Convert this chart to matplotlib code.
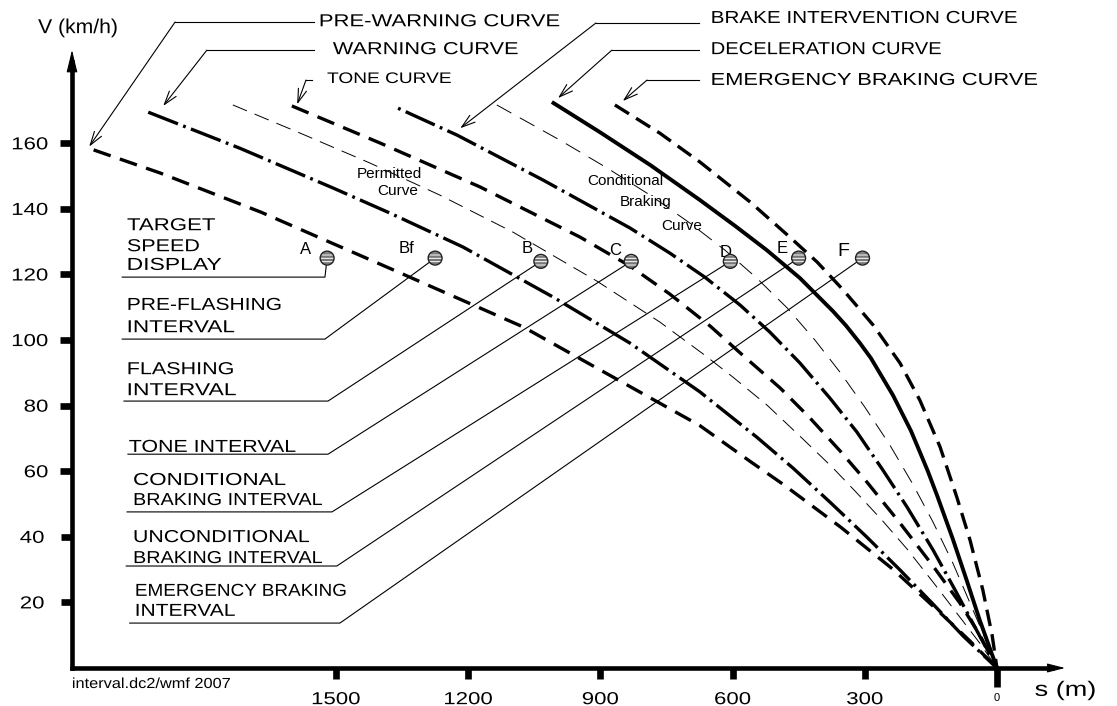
import matplotlib
matplotlib.use('Agg')
import matplotlib.pyplot as plt
from matplotlib.patheffects import AbstractPathEffect
from matplotlib.transforms import Affine2D

plt.rcParams['font.family'] = ['Liberation Sans', 'DejaVu Sans']
plt.rcParams['lines.scale_dashes'] = False
plt.rcParams['hatch.linewidth'] = 0.7

# braking curves, distance to the target point s (m) against speed V (km/h)
pre_warning_s = [2050, 1900, 1670, 1380, 1075, 835, 675, 560, 485, 355, 235, 130, 61, 0]
pre_warning_v = [158, 151, 139, 122, 104, 86, 74, 63, 56, 43, 30, 17, 8.2, 0]

warning_s = [1926, 1718, 1507, 1377, 1212, 1007, 833, 674, 545, 463, 379, 295, 220, 145, 77, 0]
warning_v = [169.5, 158.5, 146.4, 138.7, 128.4, 113.1, 99.1, 84.2, 70.4, 61.0, 50.6, 39.9, 29.9, 19.5, 9.8, 0]

permitted_s = [1734, 1581, 1423, 1264, 1098, 908, 765, 663, 599, 522, 447, 372, 318, 259, 204, 145, 84, 39, 0]
permitted_v = [171.7, 163.1, 154.0, 144.2, 132.9, 118.0, 105.5, 95.4, 88.7, 80.2, 70.7, 61.0, 53.4, 44.8, 36.3, 26.2, 15.5, 7.6, 0]

tone_s = [1600, 1400, 1173, 946, 833, 742, 651, 572, 492, 424, 356, 295, 220, 145, 84, 39, 0]
tone_v = [171.4, 160.1, 146.7, 131.4, 122.6, 114.0, 104.3, 94.8, 85.4, 76.2, 66.2, 56.7, 44.2, 31.1, 19.8, 10.1, 0]

brake_s = [1359, 1225, 1030, 833, 742, 663, 583, 515, 447, 379, 318, 259, 204, 145, 95, 50, 0]
brake_v = [170.7, 162.5, 148.8, 134.2, 126.5, 119.2, 110.7, 102.4, 93.0, 82.3, 72.0, 60.4, 49.1, 36.0, 23.8, 12.5, 0]

conditional_s = [1135, 992, 885, 787, 697, 617, 545, 476, 413, 356, 300, 243, 191, 145, 100, 61, 27, 0]
conditional_v = [171.7, 161.0, 152.5, 144.2, 135.7, 127.4, 118.9, 109.8, 100.0, 90.2, 79.6, 68.0, 56.1, 44.5, 32.0, 19.8, 9.1, 0]

decel_s = [1010, 901, 787, 674, 594, 522, 447, 372, 343, 311, 286, 259, 236, 213, 195, 175,
           157, 136, 118, 100, 84, 68, 39, 0]
decel_v = [172.6, 163.4, 153.4, 142.7, 134.8, 127.4, 118.9, 108.8, 104.5, 99.1, 94.5, 88.4,
           83.2, 77.1, 72.3, 65.9, 60.1, 52.7, 46.0, 39.3, 32.9, 26.5, 14.6, 0]

emergency_s = [867, 765, 674, 560, 470, 408, 349, 281, 220, 175, 129, 91, 61, 32, 11, 0]
emergency_v = [171.7, 163.1, 154.3, 142.1, 131.4, 123.8, 115.3, 104.6, 93.0, 81.7, 67.4, 52.1, 39.0, 23.8, 10.1, 0]

# display points on the 125 km/h line
dot_names = ['A', 'Bf', 'B', 'C', 'D', 'E', 'F']
dot_s = [1520, 1275, 1035, 830, 605, 450, 305]
dot_v = [125, 125, 124, 124, 124, 125, 125]

interval_text = ['TARGET', 'SPEED', 'DISPLAY', 'PRE-FLASHING', 'INTERVAL', 'FLASHING', 'INTERVAL',
                 'TONE INTERVAL', 'CONDITIONAL', 'BRAKING INTERVAL', 'UNCONDITIONAL',
                 'BRAKING INTERVAL', 'EMERGENCY BRAKING', 'INTERVAL']
curve_text = ['PRE-WARNING CURVE', 'WARNING CURVE', 'TONE CURVE',
              'BRAKE INTERVENTION CURVE', 'DECELERATION CURVE', 'EMERGENCY BRAKING CURVE']

x_ticks = [1500, 1200, 900, 600, 300]
y_ticks = [60, 80, 100, 120, 140, 160]
y_small_ticks = [20, 40]


class Stretch(AbstractPathEffect):
    # the lettering in the drawing is spaced out, widen the glyphs sideways
    def __init__(self, sx, anchor='left'):
        super().__init__()
        self.sx = sx
        self.anchor = anchor

    def draw_path(self, renderer, gc, tpath, affine, rgbFace=None):
        ext = tpath.get_extents(affine)
        if self.anchor == 'left':
            x0 = ext.x0
        elif self.anchor == 'right':
            x0 = ext.x1
        else:
            x0 = (ext.x0 + ext.x1) / 2
        aff = affine + Affine2D().translate(-x0, 0).scale(self.sx, 1).translate(x0, 0)
        renderer.draw_path(gc, tpath, aff, rgbFace)


fig = plt.figure(figsize=(11.17, 7.06), dpi=100)
ax = fig.add_axes([72 / 1117, 38 / 706, 980 / 1117, 606 / 706])
ax.set_xlim(2099, -125)
ax.set_ylim(0, 184.8)


def label(x, y, txt, size=12.5, sx=1.22, ha='left'):
    t = ax.text(x, y, txt, fontsize=size, ha=ha, va='baseline', clip_on=False)
    t.set_path_effects([Stretch(sx, ha)])
    return t


# curves
ax.plot(pre_warning_s, pre_warning_v, color='k', lw=2.4, dashes=(13, 7))
ax.plot(warning_s, warning_v, color='k', lw=2.4, dashes=(23, 4, 2, 4))
ax.plot(permitted_s, permitted_v, color='k', lw=0.7, dashes=(11, 6))
ax.plot(tone_s, tone_v, color='k', lw=2.4, dashes=(13, 7))
ax.plot(brake_s, brake_v, color='k', lw=2.4, ls=(27, (23, 4, 2, 4)))
ax.plot(conditional_s, conditional_v, color='k', lw=0.7, dashes=(12, 7))
ax.plot(decel_s, decel_v, color='k', lw=2.8, solid_capstyle='butt', solid_joinstyle='round')
ax.plot(emergency_s, emergency_v, color='k', lw=2.4, dashes=(12, 6))

# leaders from the interval labels to the display points
under_s0 = [1985, 1985, 1981, 1972, 1974, 1976, 1968]
under_s1 = [1525, 1525, 1518, 1518, 1509, 1498, 1491]
under_v = [119.2, 100.3, 81.4, 65.2, 47.6, 31.1, 13.7]
for i in range(len(dot_s)):
    ax.plot([under_s0[i], under_s1[i], dot_s[i]], [under_v[i], under_v[i], dot_v[i]],
            color='k', lw=0.8)

ax.scatter(dot_s, dot_v, s=100, facecolors='#777777', edgecolors='white',
           linewidths=0, hatch='-----', zorder=5)
ax.scatter(dot_s, dot_v, s=100, facecolors='none', edgecolors='#222222',
           linewidths=1.0, zorder=6)

name_s = [1570, 1341, 1066, 867, 615, 488, 349]
name_v = [126.4, 126.7, 126.5, 125.9, 125.3, 126.5, 125.6]
for i, n in enumerate(dot_names):
    ax.text(name_s[i], name_v[i], n, fontsize=14 if n == 'F' else 12,
            ha='center', va='baseline')

interval_s = [1974, 1974, 1974, 1974, 1974, 1974, 1974, 1970, 1960, 1960, 1960, 1960, 1956, 1956]
interval_v = [133.5, 127.1, 121.4, 109.2, 102.4, 89.6, 83.2, 65.9, 55.8, 49.7, 38.4, 32.0, 22.0, 15.9]
interval_sx = [1.28, 1.24, 1.32, 1.21, 1.30, 1.24, 1.32, 1.23, 1.29, 1.14, 1.23, 1.14, 1.09, 1.21]
for txt, s, v, sx in zip(interval_text, interval_s, interval_v, interval_sx):
    label(s, v, txt, sx=sx)

# curve names with arrow leaders
top_s = [1538, 1507, 1520, 649, 649, 649]
top_v = [195.7, 187.2, 178.4, 196.7, 187.2, 177.8]
top_size = [12.5, 12.5, 11, 12.5, 12.5, 12.5]
top_sx = [1.27, 1.25, 1.25, 1.19, 1.16, 1.26]
lead_end = [1550, 1550, 1554, 676, 676, 676]
lead_elbow = [1865, 1793, 1568, 910, 874, 794]
lead_v = [197.0, 188.4, 179.3, 196.7, 188.4, 179.3]
tip_s = [2060, 1892, 1588, 1218, 996, 849]
tip_v = [159.0, 171.4, 171.9, 164.6, 173.8, 172.9]
for i, txt in enumerate(curve_text):
    label(top_s[i], top_v[i], txt, size=top_size[i], sx=top_sx[i])
    ax.plot([lead_end[i], lead_elbow[i]], [lead_v[i], lead_v[i]], color='k', lw=0.8, clip_on=False)
    ax.annotate('', xy=(tip_s[i], tip_v[i]), xytext=(lead_elbow[i], lead_v[i]),
                arrowprops=dict(arrowstyle='->,head_length=0.7,head_width=0.22',
                                lw=0.8, color='k', shrinkA=0, shrinkB=0,
                                mutation_scale=14), annotation_clip=False)

ax.text(1452, 149.4, 'Permitted', fontsize=11, ha='left', va='baseline')
ax.text(1407, 144.2, 'Curve', fontsize=11, ha='left', va='baseline')
ax.text(930, 147.3, 'Conditional', fontsize=11, ha='left', va='baseline')
ax.text(855, 140.9, 'Braking', fontsize=11, ha='left', va='baseline')
ax.text(762, 133.5, 'Curve', fontsize=11, ha='left', va='baseline')

# axes
for side in ['top', 'right']:
    ax.spines[side].set_visible(False)
for side in ['left', 'bottom']:
    ax.spines[side].set_linewidth(3.3)
ax.annotate('', xy=(0, 1.0198), xytext=(0, 0.95), xycoords='axes fraction',
            arrowprops=dict(arrowstyle='-|>,head_length=0.7,head_width=0.17',
                            lw=0.8, color='k', shrinkA=0, shrinkB=0, mutation_scale=20))
ax.annotate('', xy=(1.0133, 0), xytext=(0.97, 0), xycoords='axes fraction',
            arrowprops=dict(arrowstyle='-|>,head_length=0.55,head_width=0.14',
                            lw=0.8, color='k', shrinkA=0, shrinkB=0, mutation_scale=20))

ax.set_xticks(x_ticks)
ax.set_xticklabels([str(t) for t in x_ticks])
ax.set_xticks([0], minor=True)
ax.set_xticklabels(['0'], minor=True)
ax.set_yticks(y_ticks)
ax.set_yticklabels([str(t) for t in y_ticks])
ax.set_yticks(y_small_ticks, minor=True)
ax.set_yticklabels([str(t) for t in y_small_ticks], minor=True)
ax.tick_params(which='both', direction='out', width=4.8, color='k')
ax.tick_params(axis='y', which='major', length=8.6, pad=8.6, labelsize=12.5)
ax.tick_params(axis='y', which='minor', length=8.0, pad=12, labelsize=12.5)
ax.tick_params(axis='x', which='major', length=8, pad=9.4, labelsize=12.5)
ax.tick_params(axis='x', which='minor', length=13.7, pad=4.3, labelsize=8)
for t in ax.get_yticklabels() + ax.get_yticklabels(minor=True):
    t.set_path_effects([Stretch(1.28, 'right')])
for t in ax.get_xticklabels():
    t.set_path_effects([Stretch(1.28, 'center')])

label(2176, 193.6, 'V (km/h)', size=14.5, sx=1.05)
label(-86, -8.5, 's (m)', size=15, sx=1.3)
label(2099, -6.1, 'interval.dc2/wmf 2007', size=10.5, sx=1.12)

fig.savefig('out.png', dpi=100)
